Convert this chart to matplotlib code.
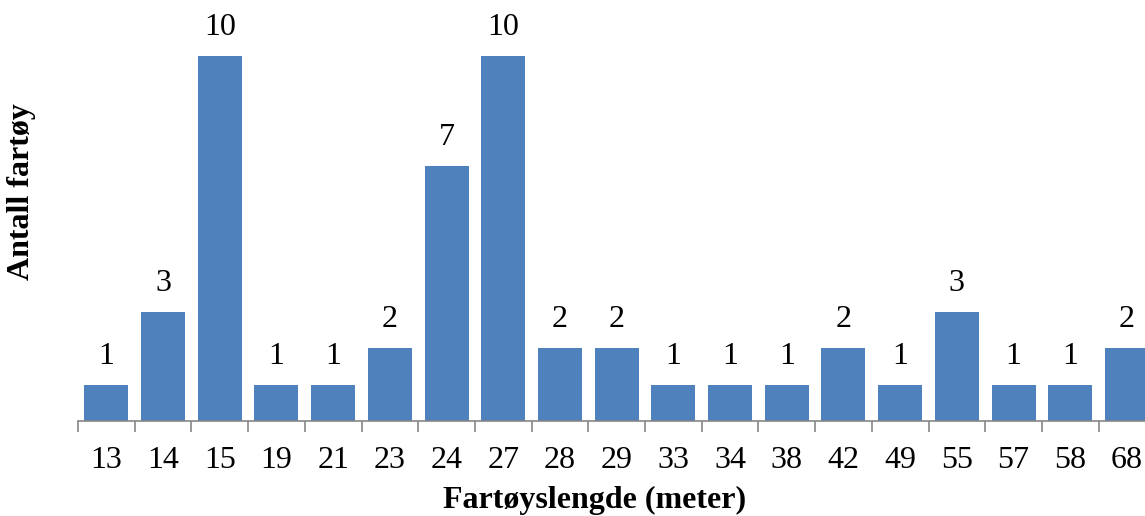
import matplotlib.pyplot as plt
import numpy as np

# lengths (meter) and number of vessels
lengths = ['13', '14', '15', '19', '21', '23', '24', '27', '28', '29',
           '33', '34', '38', '42', '49', '55', '57', '58', '68']
counts = [1, 3, 10, 1, 1, 2, 7, 10, 2, 2, 1, 1, 1, 2, 1, 3, 1, 1, 2]

plt.rcParams['font.family'] = ['Liberation Serif', 'DejaVu Serif']

fig = plt.figure(figsize=(11.45, 5.16), dpi=100)
# axes runs a bit past the right edge, like the cropped original
ax = fig.add_axes([78/1145, 95/516, 19*56.7/1145, 365/516])

x = np.arange(len(lengths))
ax.bar(x, counts, width=0.775, color='#4F81BD', edgecolor='none')

for xi, c in zip(x, counts):
    ax.annotate(str(c), (xi, c), xytext=(0, 10), textcoords='offset points',
                ha='center', va='bottom', fontsize=23, annotation_clip=False)

ax.set_xlim(-0.5, len(lengths) - 0.5)
ax.set_ylim(0, 10)

for s in ['top', 'right', 'left']:
    ax.spines[s].set_visible(False)
ax.spines['bottom'].set_color('#868686')
ax.spines['bottom'].set_linewidth(1.2)

ax.set_yticks([])
ax.set_xticks(np.arange(-0.5, len(lengths), 1.0))
ax.set_xticklabels([])
ax.tick_params(axis='x', which='major', length=8, color='#868686', width=1.2)
ax.set_xticks(x, minor=True)
ax.set_xticklabels(lengths, minor=True, fontsize=23)
ax.tick_params(axis='x', which='minor', length=0, pad=18)

fig.text(595/1145, 1 - 500/516, 'Fartøyslengde (meter)', ha='center', va='center',
         fontsize=23, fontweight='bold')
fig.text(22/1145, 1 - 192/516, 'Antall fartøy', ha='center', va='center',
         rotation=90, fontsize=23, fontweight='bold')

fig.savefig('out.png', dpi=100)
